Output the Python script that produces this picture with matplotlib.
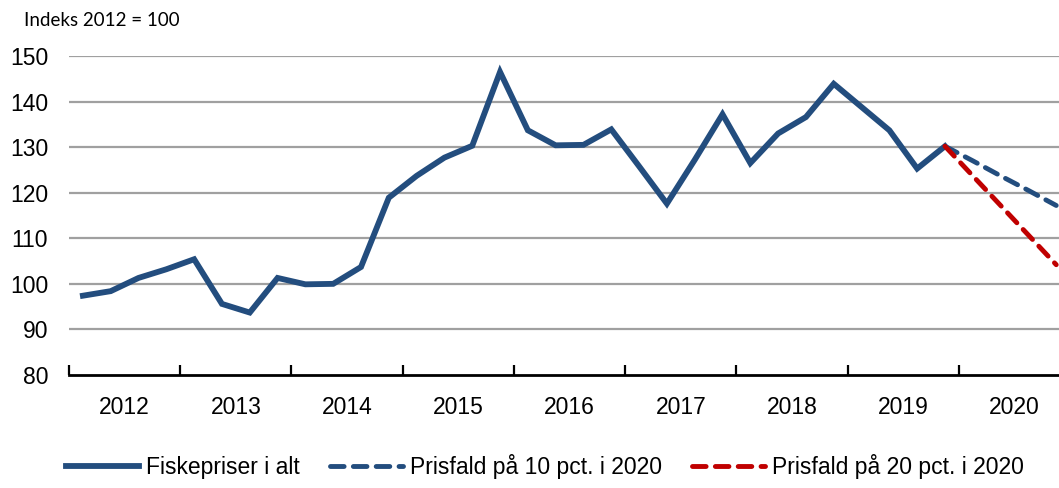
import matplotlib
matplotlib.use("Agg")
import matplotlib.pyplot as plt
from matplotlib.ticker import FixedLocator, NullFormatter, FixedFormatter

# quarterly index 2012 = 100, 2012 Q1 .. 2019 Q4
fiskepriser = [97.4, 98.4, 101.3, 103.2, 105.4, 95.6, 93.7, 101.3,
               99.9, 100.0, 103.7, 118.9, 123.7, 127.7, 130.3, 146.5,
               133.7, 130.4, 130.5, 133.9, 125.8, 117.6, 127.2, 137.2,
               126.5, 133.0, 136.6, 143.9, 138.8, 133.7, 125.3, 130.2]
# scenarios from 2019 Q4 to 2020 Q4
fald_10 = [130.2, 127.0, 123.7, 120.5, 117.2]
fald_20 = [130.2, 123.7, 117.2, 110.7, 104.2]
years = ["2012", "2013", "2014", "2015", "2016", "2017", "2018", "2019", "2020"]

blue = "#234d7e"
red = "#c00000"
font = ["Liberation Sans", "DejaVu Sans"]

fig = plt.figure(figsize=(10.59, 4.88), dpi=100)
ax = fig.add_axes([69 / 1059, 113 / 488, 1 - 69 / 1059, 319 / 488])

x_hist = list(range(len(fiskepriser)))
x_scen = list(range(len(fiskepriser) - 1, len(fiskepriser) - 1 + len(fald_10)))

ax.plot(x_hist, fiskepriser, color=blue, lw=4.2, solid_joinstyle="miter",
        label="Fiskepriser i alt", zorder=3)
ax.plot(x_scen, fald_10, color=blue, lw=3.5, dashes=(2.8, 1.9),
        dash_capstyle="round", label="Prisfald på 10 pct. i 2020", zorder=3)
ax.plot(x_scen, fald_20, color=red, lw=3.5, dashes=(2.8, 1.9),
        dash_capstyle="round", label="Prisfald på 20 pct. i 2020", zorder=3)

ax.set_ylim(80, 150)
ax.set_xlim(-0.5, 35.1)
ax.set_yticks(range(80, 151, 10))
for v in range(90, 151, 10):
    ax.axhline(v, color="#a0a0a0", lw=1.6, zorder=1)

for s in ["top", "right", "left"]:
    ax.spines[s].set_visible(False)
ax.spines["bottom"].set_linewidth(2.0)
ax.spines["bottom"].set_zorder(4)

# year boundaries as ticks, year names centred in between
ax.xaxis.set_major_locator(FixedLocator([-0.5 + 4 * k for k in range(10)]))
ax.xaxis.set_major_formatter(NullFormatter())
ax.xaxis.set_minor_locator(FixedLocator([1.5 + 4 * k for k in range(len(years))]))
ax.xaxis.set_minor_formatter(FixedFormatter(years))
ax.tick_params(axis="x", which="major", direction="in", length=7, width=1.6)
ax.tick_params(axis="x", which="minor", length=0, pad=15, labelsize=16.5)
ax.tick_params(axis="y", length=0, pad=15, labelsize=16.5)
for lab in ax.get_yticklabels() + ax.xaxis.get_minorticklabels():
    lab.set_fontfamily(font)

fig.text(24 / 1059, 1 - 20 / 488, "Indeks 2012 = 100", fontsize=13.5,
         family=["Lato", "DejaVu Sans"], va="center", ha="left")

leg = fig.legend(loc="lower center", bbox_to_anchor=(545 / 1059, 0.0),
                 ncol=3, frameon=False, handlelength=3.2, handletextpad=0.3,
                 columnspacing=1.3, borderaxespad=0.2, borderpad=0.2,
                 prop={"family": font, "size": 16.5})

fig.savefig("out.png", dpi=100)
